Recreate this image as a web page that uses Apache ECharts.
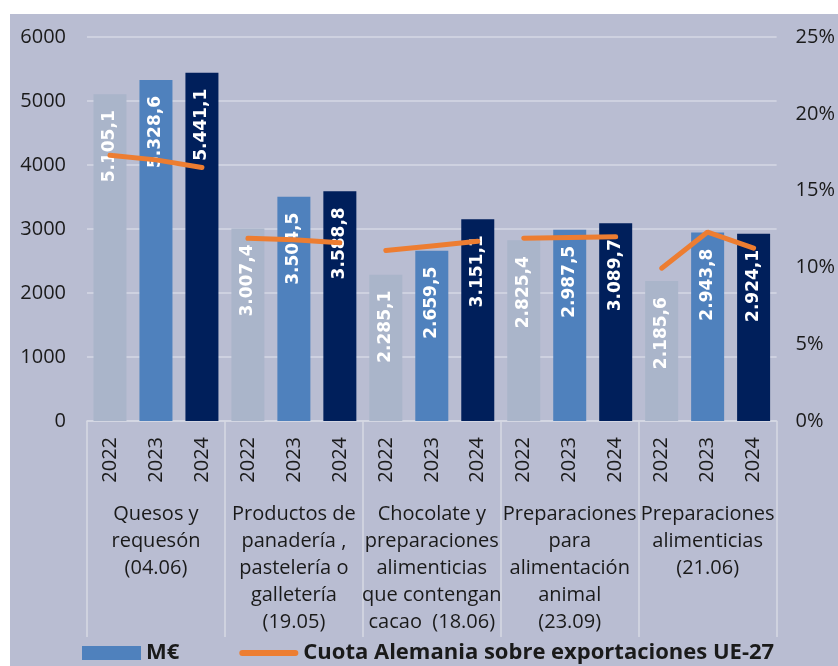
<!DOCTYPE html>
<html>
<head>
<meta charset="utf-8">
<script src="https://cdn.jsdelivr.net/npm/echarts@6/dist/echarts.min.js"></script>
<style>
html,body{margin:0;padding:0;background:#ffffff;}
#chart{position:absolute;left:10px;top:14px;width:828px;height:652px;background:#b9bdd2;}
</style>
</head>
<body>
<div id="chart"></div>
<script>
// ---- data ----
const groups = [
  'Quesos y\nrequesón\n(04.06)',
  'Productos de\npanadería ,\npastelería o\ngalletería\n(19.05)',
  'Chocolate y\npreparaciones\nalimenticias\nque contengan\ncacao  (18.06)',
  'Preparaciones\npara\nalimentación\nanimal\n(23.09)',
  'Preparaciones\nalimenticias\n(21.06)'
];
const years = ['2022', '2023', '2024'];
const mEur2022 = [5105.1, 3007.4, 2285.1, 2825.4, 2185.6];
const mEur2023 = [5328.6, 3504.5, 2659.5, 2987.5, 2943.8];
const mEur2024 = [5441.1, 3588.8, 3151.1, 3089.7, 2924.1];
const cuota2022 = [17.3, 11.9, 11.1, 11.9, 9.95];
const cuota2023 = [17.0, 11.8, 11.4, 11.95, 12.3];
const cuota2024 = [16.5, 11.6, 11.7, 12.0, 11.25];
const leftTicks = {min: 0, max: 6000, interval: 1000};
const rightTicks = {min: 0, max: 25, interval: 5};
const barSeriesName = 'M€';
const lineSeriesName = 'Cuota Alemania sobre exportaciones UE-27';

// ---- build ----
const yearColors = ['#aab5ca', '#4f81bd', '#001f5b'];
const FONT = 'Open Sans';
const mByYear = [mEur2022, mEur2023, mEur2024];
const cByYear = [cuota2022, cuota2023, cuota2024];

const xCats = [];
const barData = [];
groups.forEach((g, gi) => {
  years.forEach((y, yi) => {
    xCats.push(y);
    barData.push({value: mByYear[yi][gi], itemStyle: {color: yearColors[yi]}});
  });
});

function fmt(v) {
  const parts = v.toFixed(1).split('.');
  const intPart = parts[0].replace(/\B(?=(\d{3})+(?!\d))/g, '.');
  return intPart + ',' + parts[1];
}

const lineSeries = groups.map((g, gi) => {
  const d = new Array(xCats.length).fill(null);
  years.forEach((y, yi) => { d[gi * 3 + yi] = cByYear[yi][gi]; });
  return {
    name: lineSeriesName,
    type: 'line',
    yAxisIndex: 1,
    xAxisIndex: 0,
    data: d,
    symbol: 'none',
    showSymbol: false,
    connectNulls: false,
    lineStyle: {color: '#ed7d31', width: 5, cap: 'round'},
    itemStyle: {color: '#ed7d31'},
    z: 5,
    silent: true
  };
});

const chart = echarts.init(document.getElementById('chart'), null, {renderer: 'canvas'});
chart.setOption({
  backgroundColor: '#b9bdd2',
  animation: false,
  textStyle: {fontFamily: FONT},
  grid: {left: 77, right: 61, top: 23, bottom: 245},
  legend: {
    left: 72,
    top: 628,
    padding: 0,
    itemWidth: 59,
    itemHeight: 14,
    itemGap: 60,
    textStyle: {fontFamily: FONT, fontSize: 22, fontWeight: 'bold', color: '#1a1a1a'},
    data: [
      {name: barSeriesName, icon: 'rect', itemStyle: {color: '#4f81bd'}},
      {name: lineSeriesName, icon: 'path://M0,0 M60,14 M3,4 L57,4 A3,3 0 0 1 57,10 L3,10 A3,3 0 0 1 3,4 Z', itemStyle: {color: '#ed7d31'}}
    ]
  },
  xAxis: [
    {
      type: 'category',
      data: xCats,
      position: 'bottom',
      axisLine: {show: true, lineStyle: {color: '#d6d9e4', width: 1.5}},
      axisTick: {show: false},
      axisLabel: {rotate: 90, interval: 0, margin: 16, fontSize: 20, color: '#1a1a1a', fontFamily: FONT},
      splitLine: {show: false}
    },
    {
      type: 'category',
      data: groups,
      position: 'bottom',
      axisLine: {show: false},
      axisTick: {show: true, length: 216, alignWithLabel: false, lineStyle: {color: '#d6d9e4', width: 1.5}},
      axisLabel: {interval: 0, margin: 80, fontSize: 20, lineHeight: 27, color: '#1a1a1a', fontFamily: FONT, align: 'center'},
      splitLine: {show: false}
    }
  ],
  yAxis: [
    {
      type: 'value',
      min: leftTicks.min, max: leftTicks.max, interval: leftTicks.interval,
      axisLine: {show: false},
      axisTick: {show: false},
      axisLabel: {margin: 21, fontSize: 20, color: '#1a1a1a', fontFamily: FONT, formatter: v => String(v)},
      splitLine: {show: true, lineStyle: {color: '#d6d9e4', width: 1.5}}
    },
    {
      type: 'value',
      position: 'right',
      min: rightTicks.min, max: rightTicks.max, interval: rightTicks.interval,
      axisLine: {show: false},
      axisTick: {show: false},
      axisLabel: {margin: 19, fontSize: 20, color: '#1a1a1a', fontFamily: FONT, formatter: '{value}%'},
      splitLine: {show: false}
    }
  ],
  series: [
    {
      name: barSeriesName,
      type: 'bar',
      xAxisIndex: 0,
      yAxisIndex: 0,
      data: barData,
      barWidth: 33,
      itemStyle: {color: '#4f81bd'},
      label: {
        show: true,
        position: 'insideTop',
        distance: 16,
        rotate: 90,
        align: 'right',
        verticalAlign: 'middle',
        color: '#ffffff',
        fontSize: 17,
        fontWeight: 'bold',
        fontFamily: 'DejaVu Sans',
        formatter: p => fmt(p.value)
      },
      z: 2
    }
  ].concat(lineSeries)
});
</script>
</body>
</html>
